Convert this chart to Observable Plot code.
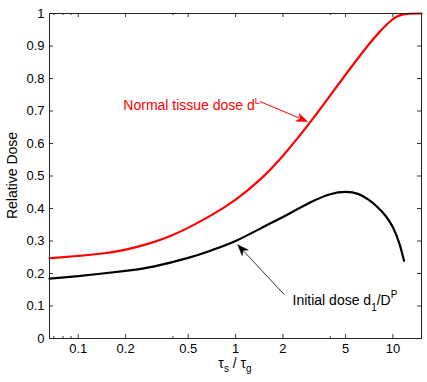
<!DOCTYPE html>
<html>
<head>
<meta charset="utf-8">
<script src="https://cdn.jsdelivr.net/npm/d3@7"></script>
<script src="https://cdn.jsdelivr.net/npm/@observablehq/plot@0.6"></script>
<style>
  html, body { margin: 0; padding: 0; background: #fff; }
  #chart svg { display: block; }
</style>
</head>
<body>
<div id="chart"></div>
<script>
// ---- data ----
const normalX = [0.0657, 0.1, 0.15, 0.2, 0.3, 0.4, 0.5, 0.7, 1.0, 1.44, 2.0, 3.0, 4.0, 5.0, 7.0, 8.25, 10.0, 11.3, 15.2];
const normalY = [0.247, 0.254, 0.262, 0.272, 0.295, 0.318, 0.340, 0.378, 0.425, 0.487, 0.560, 0.666, 0.748, 0.812, 0.905, 0.945, 0.985, 1.0, 1.0];

const initialX = [0.0657, 0.1, 0.2, 0.3, 0.5, 0.7, 1.0, 1.5, 2.0, 3.0, 4.0, 5.0, 6.0, 7.0, 8.0, 9.0, 10.0, 11.0, 11.77];
const initialY = [0.184, 0.192, 0.208, 0.221, 0.248, 0.271, 0.300, 0.343, 0.374, 0.419, 0.444, 0.451, 0.445, 0.427, 0.404, 0.377, 0.342, 0.292, 0.239];

const xTicks = [0.1, 0.2, 0.5, 1, 2, 5, 10];
const xTickLabels = ["0.1", "0.2", "0.5", "1", "2", "5", "10"];
const xMinorTicks = [0.07, 0.08, 0.09, 0.4, 4];
const yTicks = [0, 0.1, 0.2, 0.3, 0.4, 0.5, 0.6, 0.7, 0.8, 0.9, 1];
const yTickLabels = ["0", "0.1", "0.2", "0.3", "0.4", "0.5", "0.6", "0.7", "0.8", "0.9", "1"];

// annotation arrows (start -> tip, data coordinates)
const arrowX1 = [1.435, 2.06];
const arrowY1 = [0.728, 0.133];
const arrowX2 = [2.89, 1.04];
const arrowY2 = [0.666, 0.287];
const arrowColors = ["#ff0000", "#000000"];
const arrowWidths = [1.0, 0.8];

// annotation text anchors (data coordinates)
const labelX = [0.195, 2.32];
const labelY = [0.7025, 0.1025];

// ---- layout ----
const W = 427, H = 382;
const mL = 49, mR = 6, mT = 13, mB = 44;
const plotW = W - mL - mR, plotH = H - mT - mB;
const FONT = "'Liberation Sans', Arial, Helvetica, sans-serif";

const normal = normalX.map((x, i) => ({x, y: normalY[i]}));
const initial = initialX.map((x, i) => ({x, y: initialY[i]}));
const xTickData = xTicks.map((x, i) => ({x, label: xTickLabels[i]}));

function annotations(index, scales, values, dims) {
  const {x, y} = scales;
  const g = d3.create("svg:g").attr("font-family", FONT).attr("text-anchor", "start");
  // arrows
  for (let i = 0; i < arrowX1.length; ++i) {
    const x1 = x(arrowX1[i]), y1 = y(arrowY1[i]);
    const x2 = x(arrowX2[i]), y2 = y(arrowY2[i]);
    const a = Math.atan2(y2 - y1, x2 - x1);
    const L = 11, Wd = 4.2;
    const bx = x2 - L * Math.cos(a), by = y2 - L * Math.sin(a);
    g.append("line")
      .attr("x1", x1).attr("y1", y1)
      .attr("x2", x2 - (L - 2) * Math.cos(a)).attr("y2", y2 - (L - 2) * Math.sin(a))
      .attr("stroke", arrowColors[i]).attr("stroke-width", arrowWidths[i]);
    const bx2 = x2 - (L - 3) * Math.cos(a), by2 = y2 - (L - 3) * Math.sin(a);
    g.append("path")
      .attr("d", `M${x2},${y2}L${bx + Wd * Math.sin(a)},${by - Wd * Math.cos(a)}L${bx2},${by2}L${bx - Wd * Math.sin(a)},${by + Wd * Math.cos(a)}Z`)
      .attr("fill", arrowColors[i]).attr("stroke", arrowColors[i]).attr("stroke-width", 0.5)
      .attr("stroke-linejoin", "miter");
  }
  // red label
  const t1 = g.append("text")
    .attr("x", x(labelX[0])).attr("y", y(labelY[0]))
    .attr("text-anchor", "start")
    .attr("fill", "#ff0000").attr("font-size", 14);
  t1.append("tspan").text("Normal tissue dose d");
  t1.append("tspan").attr("dy", -5.5).attr("font-size", 9).text("L");
  // black label
  const t2 = g.append("text")
    .attr("x", x(labelX[1])).attr("y", y(labelY[1]))
    .attr("text-anchor", "start")
    .attr("fill", "#000").attr("font-size", 14);
  t2.append("tspan").text("Initial dose d");
  t2.append("tspan").attr("dy", 6.5).attr("font-size", 10).text("1");
  t2.append("tspan").attr("dy", -6.5).text("/D");
  t2.append("tspan").attr("dy", -7).attr("font-size", 10).text("P");
  // x axis label
  const cx = mL + plotW / 2;
  const t3 = g.append("text")
    .attr("x", cx).attr("y", H - 14)
    .attr("text-anchor", "middle").attr("fill", "#000").attr("font-size", 14);
  t3.append("tspan").text("τ");
  t3.append("tspan").attr("dy", 4).attr("font-size", 10).text("s");
  t3.append("tspan").attr("dy", -4).text(" / τ");
  t3.append("tspan").attr("dy", 4).attr("font-size", 10).text("g");
  // y axis label
  g.append("text")
    .attr("transform", `translate(17.3,${mT + plotH / 2}) rotate(-90)`)
    .attr("text-anchor", "middle").attr("fill", "#000").attr("font-size", 14)
    .text("Relative Dose");
  return g.node();
}

const chart = Plot.plot({
  width: W,
  height: H,
  marginLeft: mL,
  marginRight: mR,
  marginTop: mT,
  marginBottom: mB,
  style: {fontFamily: FONT, fontSize: "13px", color: "#000", background: "#fff"},
  x: {
    type: "log",
    domain: [0.0657, 15.2],
    axis: null
  },
  y: {
    domain: [0, 1],
    ticks: yTicks,
    tickFormat: (d) => yTickLabels[yTicks.indexOf(d)] ?? "",
    tickSize: 0,
    tickPadding: 5,
    label: null
  },
  marks: [
    // inward tick marks (MATLAB box style)
    Plot.tickX(xTicks, {x: (d) => d, insetTop: plotH - 4, stroke: "#333", strokeWidth: 1}),
    Plot.tickX(xTicks, {x: (d) => d, insetBottom: plotH - 4, stroke: "#333", strokeWidth: 1}),
    Plot.tickX(xMinorTicks, {x: (d) => d, insetTop: plotH - 2, stroke: "#333", strokeWidth: 1}),
    Plot.tickX(xMinorTicks, {x: (d) => d, insetBottom: plotH - 2, stroke: "#333", strokeWidth: 1}),
    Plot.tickY(yTicks, {y: (d) => d, insetRight: plotW - 4, stroke: "#333", strokeWidth: 1}),
    Plot.tickY(yTicks, {y: (d) => d, insetLeft: plotW - 4, stroke: "#333", strokeWidth: 1}),
    // x tick labels
    Plot.text(xTickData, {x: "x", text: "label", frameAnchor: "bottom", dy: 14, fill: "#000", fontSize: 13}),
    Plot.line(normal, {x: "x", y: "y", stroke: "#ff0000", strokeWidth: 2.2, curve: "basis"}),
    Plot.line(initial, {x: "x", y: "y", stroke: "#000", strokeWidth: 2.2, curve: "natural"}),
    Plot.frame({stroke: "#222", strokeWidth: 1}),
    annotations
  ]
});
document.getElementById("chart").appendChild(chart);
</script>
</body>
</html>
